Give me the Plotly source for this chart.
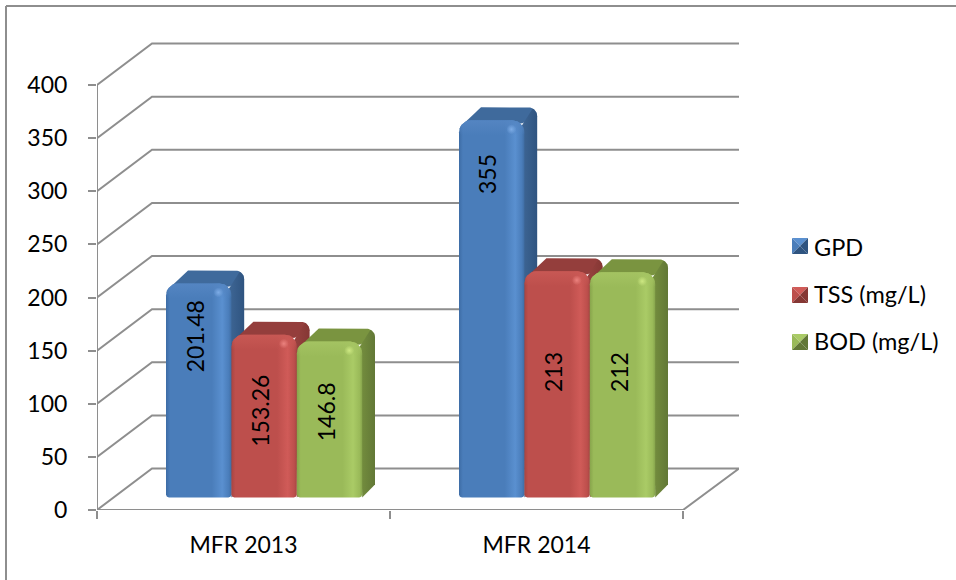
import numpy as np
import plotly.graph_objects as go

# Chart data
categories = ["MFR 2013", "MFR 2014"]
series_names = ["GPD", "TSS (mg/L)", "BOD (mg/L)"]
gpd = [201.48, 355]
tss = [153.26, 213]
bod = [146.8, 212]
y_ticks = [0, 50, 100, 150, 200, 250, 300, 350, 400]

# Shades per series: front gradient stops, side, top, highlight (r, g, b for the soft ones)
palettes = [
    dict(edge="#3d6ca5", main="#4a7dba", glow="#5a90d0", dark="#3f6da3",
         side=["#3f6796", "#2f5480"], top="#3f6a9c", rim=(84, 133, 194), spot=(125, 172, 230)),
    dict(edge="#a84441", main="#bd4f4c", glow="#d05b58", dark="#a64643",
         side=["#98423f", "#853734"], top="#943e3c", rim=(200, 88, 84), spot=(235, 130, 126)),
    dict(edge="#87a44b", main="#9aba59", glow="#aacb66", dark="#86a44c",
         side=["#76903f", "#627836"], top="#7a9440", rim=(164, 195, 98), spot=(205, 232, 130)),
]

# Pixel scale of the axes
W, H = 956, 580
ML, MR, MT, MB = 97, 217, 42, 70
PLOT_W = W - ML - MR
PLOT_H = H - MT - MB
PX_PER_CAT = 293.0
PX_PER_UNIT = 425.0 / 400.0
X_MAX = PLOT_W / PX_PER_CAT
Y_MAX = PLOT_H / PX_PER_UNIT

# Offset of the back wall from the front plane, in pixels
WALL_DX, WALL_DY = 55.0, 41.5
# Bar placement on the floor, in pixels
BAR_START = 69.0
BAR_W = 65.4
BAR_BASE = 12.5
BAR_DX, BAR_DY = 12.8, 13.0
LINE = "#8e8e8e"
FONT = "Lato"
FS = 23

fig = go.Figure()


def rgba(rgb, a):
    return f"rgba({rgb[0]},{rgb[1]},{rgb[2]},{a})"


def line(xs, ys, width=2, color=LINE):
    fig.add_trace(go.Scatter(x=xs, y=ys, mode="lines", cliponaxis=False,
                             line=dict(color=color, width=width),
                             showlegend=False, hoverinfo="skip"))


def arc(cx, cy, r, a0, a1, n=8):
    t = np.radians(np.linspace(a0, a1, n))
    return list(cx + r * np.cos(t)), list(cy + r * np.sin(t))


def polygon(px, py, cat, value, gradient=None, color=None):
    """Polygon given as pixel offsets from the bar's front-left corner at a value."""
    xs = [cat + p / PX_PER_CAT for p in px]
    ys = [value + q / PX_PER_UNIT for q in py]
    kw = dict(fillcolor=color) if color else dict(fillgradient=gradient)
    fig.add_trace(go.Scatter(x=xs, y=ys, mode="lines", fill="toself",
                             line=dict(width=0), showlegend=False,
                             hoverinfo="skip", **kw))


# Walls and floor
for v in y_ticks[1:]:
    line([0, WALL_DX / PX_PER_CAT, X_MAX],
         [v, v + WALL_DY / PX_PER_UNIT, v + WALL_DY / PX_PER_UNIT])
line([0, 0], [0, 400])
line([0, 2, X_MAX, WALL_DX / PX_PER_CAT, 0],
     [0, 0, WALL_DY / PX_PER_UNIT, WALL_DY / PX_PER_UNIT, 0])

# Bars, left to right so that each one overlaps the side of the previous one
values = [gpd, tss, bod]
base = BAR_BASE / PX_PER_UNIT
for c in range(len(categories)):
    for s, vals in enumerate(values):
        pal = palettes[s]
        cat = c + (BAR_START + s * BAR_W) / PX_PER_CAT
        top = vals[c] + base
        w, h = BAR_W, vals[c] * PX_PER_UNIT
        r = 12.0

        # Top face
        ax, ay = arc(w + BAR_DX - 9, BAR_DY - 9, 9, 0, 90)
        polygon([0, 4, 22] + ax[::-1] + [w - 2],
                [-9, -4, BAR_DY] + ay[::-1] + [-3],
                cat, top, color=pal["top"])

        # Side face, ending on a slant at the floor
        ax, ay = arc(w + BAR_DX - 9, BAR_DY - 9, 9, 0, 60)
        polygon([w - 3] + ax[::-1] + [w + BAR_DX, w],
                [-6] + ay[::-1] + [-h + BAR_DY, -h],
                cat, top,
                gradient=dict(type="horizontal",
                              colorscale=[[0, pal["side"][0]], [1, pal["side"][1]]]))

        # Front face with rounded top corners
        lx, ly = arc(r, -r, r, 180, 90)
        rx, ry = arc(w - r, -r, r, 90, 0)
        bx, by = arc(w - 3, -h + 3, 3, 0, -90)
        cx, cy = arc(3, -h + 3, 3, -90, -180)
        polygon(lx + rx + bx + cx, ly + ry + by + cy, cat, top,
                gradient=dict(type="horizontal", colorscale=[
                    [0, pal["edge"]], [0.06, pal["main"]], [0.7, pal["main"]],
                    [0.86, pal["glow"]], [0.96, pal["main"]], [1, pal["dark"]]]))

        # Bevel band along the top of the front face
        polygon(lx + rx + [w, w - 6, 6, 0], ly + ry + [-r - 2, -15, -15, -r - 2], cat, top,
                gradient=dict(type="vertical", colorscale=[
                    [0, rgba(pal["rim"], 0)], [1, rgba(pal["rim"], 1)]]))

        # Highlight spot near the front right corner
        sx, sy = arc(w - 13, -9, 5, 0, 360, 24)
        polygon(sx, sy, cat, top,
                gradient=dict(type="radial", colorscale=[
                    [0, rgba(pal["spot"], 1)], [1, rgba(pal["spot"], 0)]]))

# Rotated value labels
label_height = [[0.81, 0.89], [0.61, 0.61], [0.63, 0.61]]
for c in range(len(categories)):
    for s, vals in enumerate(values):
        cat = c + (BAR_START + s * BAR_W + BAR_W / 2 - 4) / PX_PER_CAT
        fig.add_annotation(x=cat, y=vals[c] * label_height[s][c], text=str(vals[c]),
                           textangle=-90, showarrow=False,
                           font=dict(family=FONT, size=FS, color="#000000"))

# Legend entries; the bevelled swatches are drawn as shapes underneath
for name in series_names:
    fig.add_trace(go.Scatter(x=[None], y=[None], mode="markers", name=name,
                             legendgroup=name,
                             marker=dict(symbol="square", size=14, color="rgba(0,0,0,0)")))


def paper(px, py):
    return (px - ML) / PLOT_W, (H - MB - py) / PLOT_H


def tri(points, color):
    pts = [paper(*p) for p in points]
    path = "M " + " L ".join(f"{a},{b}" for a, b in pts) + " Z"
    return dict(type="path", xref="paper", yref="paper", path=path,
                fillcolor=color, line=dict(width=0), layer="below")


shapes = []
swatch_x, swatch_size = 792, 16
for pal, sy in zip(palettes, [238, 287, 334]):
    x0, x1, y0, y1 = swatch_x, swatch_x + swatch_size, sy, sy + swatch_size
    mx, my = (x0 + x1) / 2, (y0 + y1) / 2
    shapes += [
        tri([(x0, y0), (x1, y0), (mx, my)], pal["glow"]),
        tri([(x0, y0), (x0, y1), (mx, my)], pal["main"]),
        tri([(x1, y0), (x1, y1), (mx, my)], pal["side"][1]),
        tri([(x0, y1), (x1, y1), (mx, my)], pal["side"][1]),
    ]

# Chart frame along the left and top edges
fx, fy = paper(6, 6)
rx_, by_ = paper(956, 580)
shapes += [
    dict(type="line", xref="paper", yref="paper", x0=fx, y0=fy, x1=rx_, y1=fy,
         line=dict(color=LINE, width=2), layer="below"),
    dict(type="line", xref="paper", yref="paper", x0=fx, y0=fy, x1=fx, y1=by_,
         line=dict(color=LINE, width=2), layer="below"),
]

fig.update_layout(
    width=W, height=H, autosize=False,
    margin=dict(l=ML, r=MR, t=MT, b=MB, pad=0, autoexpand=False),
    paper_bgcolor="#ffffff", plot_bgcolor="#ffffff",
    font=dict(family=FONT, size=FS, color="#000000"),
    shapes=shapes,
    showlegend=True,
    legend=dict(x=(774 - ML) / PLOT_W, y=paper(0, 225.5)[1], xanchor="left", yanchor="top",
                bgcolor="rgba(0,0,0,0)", tracegroupgap=13, font=dict(family=FONT, size=23.5)),
    xaxis=dict(range=[0, X_MAX], showgrid=False, zeroline=False, showline=False,
               tickmode="array", tickvals=[0.5, 1.5], ticktext=categories,
               ticks="outside", ticklen=0, ticklabelstandoff=14,
               minor=dict(tickmode="array", tickvals=[0, 1, 2], ticks="outside",
                          ticklen=8, tickcolor=LINE, tickwidth=2, showgrid=False),
               fixedrange=True),
    yaxis=dict(range=[0, Y_MAX], showgrid=False, zeroline=False, showline=False,
               tickmode="array", tickvals=y_ticks, ticks="outside", ticklen=8,
               tickcolor=LINE, tickwidth=2, ticklabelstandoff=16, fixedrange=True),
)

fig.write_html("out.html")
